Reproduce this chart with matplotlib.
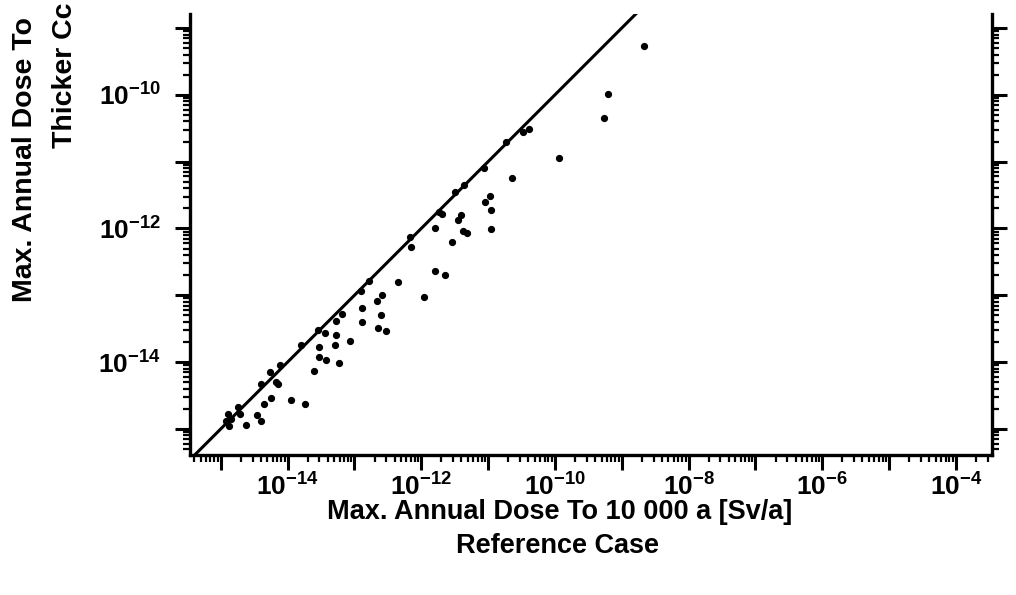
import matplotlib
matplotlib.use("Agg")
import math
import matplotlib.pyplot as plt
from matplotlib.ticker import LogLocator, FixedLocator, NullFormatter, FuncFormatter

plt.rcParams['font.family'] = ['Liberation Sans', 'DejaVu Sans']
plt.rcParams['font.weight'] = 'bold'
plt.rcParams['mathtext.fontset'] = 'custom'
plt.rcParams['mathtext.rm'] = 'Liberation Sans:bold'
plt.rcParams['mathtext.bf'] = 'Liberation Sans:bold'

# log10 of max annual dose, reference case (x) vs thicker canister (y)
ref_log = [-8.66, -9.21, -9.27, -9.94, -10.39, -10.47, -10.64, -11.06, -11.36, -11.50,
           -11.73, -11.69, -10.97, -11.04, -10.96, -10.96, -11.41, -11.45, -11.38, -11.32,
           -11.80, -11.54, -12.16, -11.79, -11.65, -12.35, -12.59, -11.96, -12.66, -12.88,
           -12.60, -12.89, -12.64, -12.52, -12.17, -12.90, -12.78, -13.27, -13.18, -13.28,
           -13.44, -13.07, -13.53, -13.29, -13.53, -13.42, -13.23, -13.60, -13.80, -13.55,
           -14.12, -14.26, -14.40, -14.18, -14.15, -14.25, -14.35, -13.95, -13.74, -14.74,
           -14.89, -14.71, -14.84, -14.87, -14.62, -14.46, -14.40, -14.92, -10.73]
thick_log = [-9.27, -9.98, -10.34, -10.95, -10.51, -10.56, -11.24, -11.10, -11.35, -11.45,
             -11.75, -11.79, -11.52, -11.60, -11.72, -12.01, -11.80, -11.88, -12.04, -12.07,
             -11.99, -12.20, -12.27, -12.63, -12.70, -12.80, -12.99, -13.02, -13.08, -13.19,
             -13.30, -13.40, -13.49, -13.53, -12.13, -12.93, -12.79, -13.38, -13.28, -13.59,
             -13.57, -13.68, -13.77, -13.75, -13.92, -13.97, -14.01, -14.14, -13.75, -13.52,
             -14.05, -14.15, -14.33, -14.30, -14.33, -14.53, -14.62, -14.57, -14.63, -14.67,
             -14.78, -14.78, -14.85, -14.95, -14.94, -14.79, -14.88, -14.88, -10.70]

ref_dose = [10 ** v for v in ref_log]
thick_dose = [10 ** v for v in thick_log]

# 1:1 line
diag = [1e-16, 1e-3]

x_decades = list(range(-15, -3))
x_labelled = [-14, -12, -10, -8, -6, -4]
y_decades = list(range(-15, -8))
y_labelled = [-14, -12, -10]

fig = plt.figure(figsize=(10.16, 5.95), dpi=100)
ax = fig.add_axes([190 / 1016, 1 - 455 / 595, 802 / 1016, 441 / 595])

ax.plot(diag, diag, color='black', lw=2.2, solid_capstyle='butt')
ax.plot(ref_dose, thick_dose, 'o', color='black', ms=4.2, mec='black')

ax.set_xscale('log')
ax.set_yscale('log')
ax.set_xlim(10 ** -15.46, 10 ** -3.46)
ax.set_ylim(10 ** -15.39, 10 ** -8.79)

def sci_fmt(labelled):
    def f(v, pos):
        e = int(round(math.log10(v)))
        if e in labelled:
            return r'$\mathbf{10^{%d}}$' % e
        return ''
    return f

ax.xaxis.set_major_locator(FixedLocator([10.0 ** e for e in x_decades]))
ax.xaxis.set_minor_locator(LogLocator(base=10, subs=[2, 3, 4, 5, 6, 7, 8, 9], numticks=50))
ax.xaxis.set_major_formatter(FuncFormatter(sci_fmt(x_labelled)))
ax.xaxis.set_minor_formatter(NullFormatter())
ax.yaxis.set_major_locator(FixedLocator([10.0 ** e for e in y_decades]))
ax.yaxis.set_minor_locator(LogLocator(base=10, subs=[2, 3, 4, 5, 6, 7, 8, 9], numticks=50))
ax.yaxis.set_major_formatter(FuncFormatter(sci_fmt(y_labelled)))
ax.yaxis.set_minor_formatter(NullFormatter())

ax.tick_params(which='major', direction='out', length=11, width=2.2, labelsize=19,
               right=True, top=False)
ax.tick_params(which='minor', direction='out', length=5, width=1.6, right=True, top=False)
ax.tick_params(axis='x', which='major', pad=2)
ax.tick_params(axis='y', which='major', pad=10)

for s in ['left', 'bottom', 'right']:
    ax.spines[s].set_linewidth(2.4)
ax.spines['top'].set_visible(False)

fig.text(560 / 1016, 1 - 512 / 595, 'Max. Annual Dose To 10 000 a [Sv/a]',
         ha='center', va='center', fontsize=19.5, fontweight='bold')
fig.text(558 / 1016, 1 - 546 / 595, 'Reference Case',
         ha='center', va='center', fontsize=19.5, fontweight='bold')
fig.text(25 / 1016, 1 - 302 / 595, 'Max. Annual Dose To', rotation=90,
         ha='center', va='bottom', fontsize=20.5, fontweight='bold')
fig.text(65 / 1016, 1 - 148 / 595, 'Thicker Cc', rotation=90,
         ha='center', va='bottom', fontsize=20.5, fontweight='bold')

fig.savefig('out.png', dpi=100)
